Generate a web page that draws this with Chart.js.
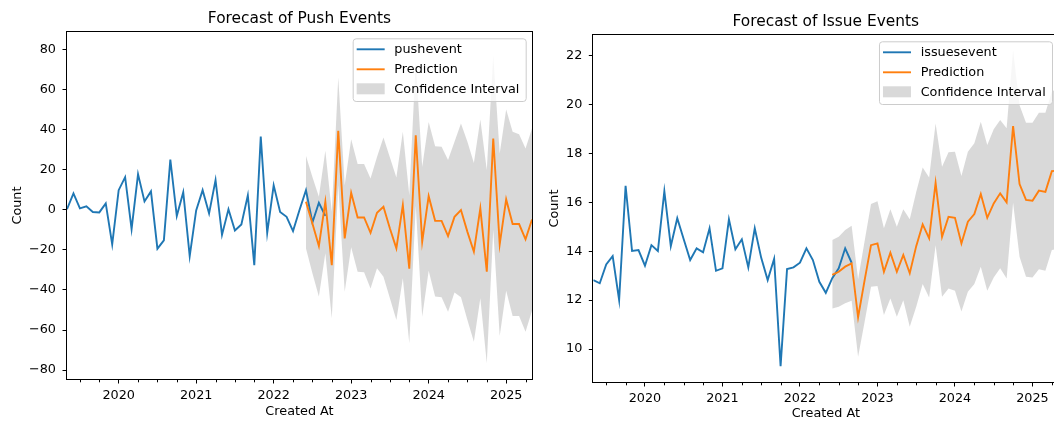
<!DOCTYPE html>
<html><head><meta charset="utf-8">
<script src="https://cdn.jsdelivr.net/npm/chart.js@4.4.1/dist/chart.umd.min.js"></script>
<style>
html,body{margin:0;padding:0;background:#fff;overflow:hidden;width:1054px;height:422px;position:relative;}
#c1{position:absolute;left:0;top:0;}
#c2{position:absolute;left:540px;top:0;}
</style></head><body>
<canvas id="c1" width="540" height="422"></canvas>
<canvas id="c2" width="526" height="422"></canvas>
<script>
// ---------- data ----------
const histMonths = ['2019-05','2019-06','2019-07','2019-08','2019-09','2019-10','2019-11','2019-12',
  '2020-01','2020-02','2020-03','2020-04','2020-05','2020-06','2020-07','2020-08','2020-09','2020-10','2020-11','2020-12',
  '2021-01','2021-02','2021-03','2021-04','2021-05','2021-06','2021-07','2021-08','2021-09','2021-10','2021-11','2021-12',
  '2022-01','2022-02','2022-03','2022-04','2022-05','2022-06','2022-07','2022-08','2022-09'];
const predMonths = ['2022-06','2022-07','2022-08','2022-09','2022-10','2022-11','2022-12',
  '2023-01','2023-02','2023-03','2023-04','2023-05','2023-06','2023-07','2023-08','2023-09','2023-10','2023-11','2023-12',
  '2024-01','2024-02','2024-03','2024-04','2024-05','2024-06','2024-07','2024-08','2024-09','2024-10','2024-11','2024-12',
  '2025-01','2025-02','2025-03','2025-04','2025-05'];
const yearTicks = [2020, 2021, 2022, 2023, 2024, 2025];

const pushActual = [0.3, 8.2, 0.7, 1.7, -1.1, -1.3, 3.2, -17.2, 9.8, 16.3, -9.6, 17.8, 4.2, 9.2, -19.4, -15.2, 25.1, -3.1, 8.8, -23.1,
  -0.3, 9.8, -1.8, 14.8, -12.5, 0.3, -10.3, -7.3, 7.2, -27.6, 36.6, -11.5, 12.2, -1.1, -3.5, -10.6, -0.1, 9.8, -6.3, 3.5, -3.0];
const pushPred = [4.0, -6.8, -18.1, 4.0, -27.6, 39.4, -14.3, 8.5, -3.8, -3.8, -11.5, -1.5, 1.5, -9.3, -19.2, 2.3, -29.4, 37.2,
  -15.9, 6.8, -5.5, -5.5, -13.1, -3.5, -0.1, -11.0, -20.9, 0.7, -30.9, 35.6, -17.2, 5.2, -7.1, -7.1, -14.7, -4.8];
const pushUpper = [26.9, 16.4, 6.5, 29.4, -1.0, 66.0, 12.3, 35.2, 22.8, 22.8, 15.6, 26.4, 36.1, 26.1, 16.1, 38.9, 7.3, 74.0,
  21.4, 43.8, 31.7, 31.5, 24.8, 33.9, 43.0, 33.9, 23.4, 45.0, 19.8, 77.0, 28.1, 50.0, 38.9, 37.7, 30.6, 40.6];
const pushLower = [-19.2, -31.7, -43.3, -21.7, -54.1, 12.3, -40.9, -18.7, -30.9, -31.2, -39.2, -29.2, -33.4, -44.1, -55.0, -34.2, -66.6, 2.0,
  -53.3, -30.4, -43.3, -43.6, -50.8, -41.2, -43.6, -55.0, -65.8, -44.1, -76.5, -10.0, -62.9, -40.4, -53.0, -53.0, -60.8, -50.3];
const pushYTicks = [-80, -60, -40, -20, 0, 20, 40, 60, 80];

const issueActual = [12.82, 12.69, 13.46, 13.80, 12.00, 16.68, 14.01, 14.05, 13.41, 14.25, 14.01, 16.46, 14.21, 15.35, 14.49, 13.64,
  14.12, 13.96, 14.94, 13.20, 13.30, 15.31, 14.08, 14.49, 13.34, 14.94, 13.73, 12.82, 13.69, 9.30, 13.27, 13.34, 13.53, 14.12,
  13.64, 12.75, 12.30, 12.90, 13.30, 14.12, 13.53];
const issuePred = [13.03, 13.16, 13.37, 13.50, 11.30, 12.80, 14.25, 14.32, 13.16, 13.94, 13.16, 13.85, 13.10, 14.21, 15.10, 14.53,
  16.80, 14.59, 15.41, 15.37, 14.32, 15.21, 15.52, 16.34, 15.37, 15.96, 16.37, 16.00, 19.12, 16.75, 16.10, 16.07, 16.48, 16.43, 17.28, 17.30];
const issueUpper = [14.46, 14.59, 14.87, 15.04, 12.85, 14.40, 15.93, 16.05, 14.94, 15.72, 15.00, 15.72, 15.31, 16.43, 17.43, 17.02,
  19.23, 17.46, 18.05, 18.07, 17.08, 18.07, 18.42, 19.30, 18.35, 18.99, 19.37, 19.03, 22.23, 19.98, 19.26, 19.26, 19.67, 19.67, 20.53, 20.70];
const issueLower = [11.66, 11.73, 11.87, 11.98, 9.68, 11.10, 12.55, 12.58, 11.39, 12.07, 11.32, 12.00, 10.91, 11.73, 12.66, 12.11,
  14.25, 12.14, 12.48, 12.38, 11.53, 12.34, 12.66, 13.37, 12.38, 12.93, 13.30, 12.89, 15.99, 13.78, 12.96, 12.93, 13.26, 13.20, 14.05, 14.10];
const issueYTicks = [10, 12, 14, 16, 18, 20, 22];

// ---------- helpers ----------
const FONT = '"DejaVu Sans", sans-serif';
Chart.defaults.font.family = FONT;
Chart.defaults.font.size = 12.8;
Chart.defaults.color = '#000';

function monthToX(s) { const p = s.split('-').map(Number); return p[0] + (p[1] - 1) / 12; }
function pts(months, vals) { return vals.map((v, i) => ({ x: monthToX(months[i]), y: v })); }
const xMin = monthToX(histMonths[0]);
const xMax = monthToX(predMonths[predMonths.length - 1]);

const decor = {
  id: 'decor',
  afterDatasetsDraw(chart) {
    const o = chart.options.plugins.decor;
    const ctx = chart.ctx;
    const a = chart.chartArea;
    const xs = chart.scales.x;
    ctx.save();
    // minor ticks (quarterly)
    ctx.strokeStyle = '#000'; ctx.lineWidth = 1;
    const by = Math.round(a.bottom) + 0.5;
    for (let y = Math.floor(xMin); y <= Math.ceil(xMax); y++) {
      for (const q of [3, 6, 9]) {
        const v = y + q / 12;
        if (v <= xMin || v >= xMax) continue;
        const px = Math.round(xs.getPixelForValue(v)) + 0.5;
        ctx.beginPath(); ctx.moveTo(px, by); ctx.lineTo(px, by + 2.8); ctx.stroke();
      }
    }
    // spines
    const l = Math.round(a.left) - 0.5, r = Math.round(a.right) + 0.5;
    const t = Math.round(a.top) - 0.5, b = Math.round(a.bottom) + 0.5;
    ctx.strokeRect(l, t, r - l, b - t);
    // title
    ctx.fillStyle = '#000';
    ctx.font = '15.4px ' + FONT;
    ctx.textAlign = 'center'; ctx.textBaseline = 'middle';
    ctx.fillText(o.title, (a.left + a.right) / 2, o.titleY);
    // legend
    ctx.font = '12.8px ' + FONT;
    const labels = [o.seriesLabel, 'Prediction', 'Confidence Interval'];
    const tw = Math.max(...labels.map(s => ctx.measureText(s).width));
    const bw = 4 + 28 + 9.7 + tw + 6.3;
    const bh = 62.7;
    const bx = a.right - 6.3 - bw, byy = a.top + 6.3;
    ctx.beginPath();
    ctx.roundRect(bx + 0.5, byy + 0.5, bw, bh, 3);
    ctx.fillStyle = 'rgba(255,255,255,0.8)'; ctx.fill();
    ctx.strokeStyle = '#cccccc'; ctx.lineWidth = 1; ctx.stroke();
    const rows = [byy + 11, byy + 31, byy + 51];
    ctx.lineWidth = 1.9;
    ctx.strokeStyle = '#1f77b4';
    ctx.beginPath(); ctx.moveTo(bx + 4, rows[0]); ctx.lineTo(bx + 32, rows[0]); ctx.stroke();
    ctx.strokeStyle = '#ff7f0e';
    ctx.beginPath(); ctx.moveTo(bx + 4, rows[1]); ctx.lineTo(bx + 32, rows[1]); ctx.stroke();
    ctx.fillStyle = 'rgba(128,128,128,0.3)';
    ctx.fillRect(bx + 4, rows[2] - 6, 28, 11);
    ctx.fillStyle = '#000'; ctx.textAlign = 'left'; ctx.textBaseline = 'middle';
    labels.forEach((s, i) => ctx.fillText(s, bx + 41.7, rows[i]));
    ctx.restore();
  }
};

function makeChart(id, g) {
  const tickFont = { family: FONT, size: 12.8 };
  return new Chart(document.getElementById(id), {
    type: 'line',
    data: {
      datasets: [
        { label: 'Prediction', data: pts(predMonths, g.pred), borderColor: '#ff7f0e', borderWidth: 1.9, pointRadius: 0, fill: false, tension: 0 },
        { label: g.seriesLabel, data: pts(histMonths, g.actual), borderColor: '#1f77b4', borderWidth: 1.9, pointRadius: 0, fill: false, tension: 0 },
        { label: 'lower', data: pts(predMonths, g.lower), borderColor: 'rgba(0,0,0,0)', borderWidth: 0, pointRadius: 0, fill: false, tension: 0 },
        { label: 'Confidence Interval', data: pts(predMonths, g.upper), borderColor: 'rgba(0,0,0,0)', borderWidth: 0, pointRadius: 0,
          fill: '-1', backgroundColor: 'rgba(128,128,128,0.3)', tension: 0 }
      ]
    },
    options: {
      responsive: false, animation: false, devicePixelRatio: 1,
      layout: { padding: { top: g.padTop, right: g.padRight, left: 0, bottom: 0 } },
      plugins: {
        legend: { display: false }, tooltip: { enabled: false }, title: { display: false },
        filler: { drawTime: 'beforeDatasetsDraw' },
        decor: { title: g.title, titleY: g.titleY, seriesLabel: g.seriesLabel }
      },
      scales: {
        x: {
          type: 'linear', min: xMin, max: xMax,
          afterBuildTicks: s => { s.ticks = yearTicks.map(v => ({ value: v })); },
          ticks: { callback: v => String(v), font: tickFont, color: '#000', padding: 4.5, maxRotation: 0, autoSkip: false },
          grid: { display: true, drawOnChartArea: false, drawTicks: true, tickLength: 4.5, color: '#000', lineWidth: 1 },
          border: { display: false },
          title: { display: true, text: 'Created At', font: tickFont, color: '#000', padding: { top: 0, bottom: g.xTitlePad } },
          afterFit: s => { s.height = g.xHeight; }
        },
        y: {
          type: 'linear', min: g.yMin, max: g.yMax,
          afterBuildTicks: s => { s.ticks = g.yTicks.map(v => ({ value: v })); },
          ticks: { callback: v => v < 0 ? '\u2212' + Math.abs(v) : String(v), font: tickFont, color: '#000', padding: 6.5, autoSkip: false },
          grid: { display: true, drawOnChartArea: false, drawTicks: true, tickLength: 4.5, color: '#000', lineWidth: 1 },
          border: { display: false },
          title: { display: true, text: 'Count', font: tickFont, color: '#000', padding: { top: g.yTitlePad, bottom: 0 } },
          afterFit: s => { s.width = g.yWidth; }
        }
      }
    },
    plugins: [decor]
  });
}

makeChart('c1', {
  title: 'Forecast of Push Events', seriesLabel: 'pushevent',
  actual: pushActual, pred: pushPred, lower: pushLower, upper: pushUpper,
  yMin: -84.4, yMax: 88.7, yTicks: pushYTicks,
  padTop: 32, padRight: 8, yWidth: 67, xHeight: 43, titleY: 19, yTitlePad: 10.3, xTitlePad: 2.3
});
makeChart('c2', {
  title: 'Forecast of Issue Events', seriesLabel: 'issuesevent',
  actual: issueActual, pred: issuePred, lower: issueLower, upper: issueUpper,
  yMin: 8.65, yMax: 22.85, yTicks: issueYTicks,
  padTop: 35, padRight: 7.7, yWidth: 53.3, xHeight: 40, titleY: 21.7, yTitlePad: 7.3, xTitlePad: 0.3
});
</script>
</body></html>
